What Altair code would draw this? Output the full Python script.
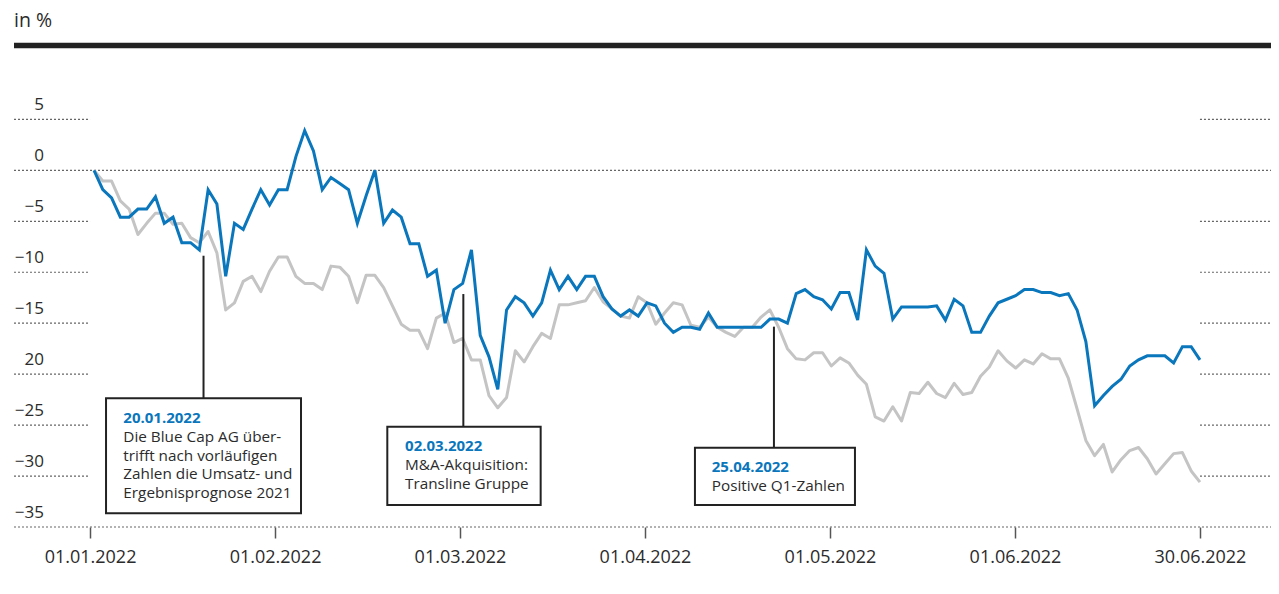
import altair as alt
import pandas as pd

# ---------------- data ----------------
blue = [0.0, -1.9, -2.7, -4.6, -4.6, -3.8, -3.8, -2.6, -5.2, -4.6,
        -7.1, -7.1, -7.8, -1.9, -3.3, -10.4, -5.2, -5.8, -3.8, -1.9,
        -3.4, -1.9, -1.9, 1.35, 3.9, 1.9, -1.9, -0.7, -1.3, -1.9,
        -5.2, -2.5, 0.0, -5.2, -3.9, -4.6, -7.2, -7.2, -10.4, -9.8,
        -15.0, -11.7, -11.1, -7.8, -16.2, -18.3, -21.5, -13.7, -12.4, -13.0,
        -14.3, -13.0, -9.8, -11.7, -10.4, -11.7, -10.4, -10.4, -12.4, -13.6,
        -14.3, -13.7, -14.3, -13.0, -13.3, -15.0, -15.9, -15.4, -15.4, -15.6,
        -14.0, -15.4, -15.4, -15.4, -15.4, -15.4, -15.4, -14.6, -14.6, -15.0,
        -12.1, -11.7, -12.4, -12.7, -13.6, -12.0, -12.0, -14.7, -7.8, -9.4,
        -10.1, -14.6, -13.4, -13.4, -13.4, -13.4, -13.3, -14.7, -12.65, -13.3,
        -15.9, -15.9, -14.3, -13.0, -12.65, -12.3, -11.7, -11.7, -12.0, -12.0,
        -12.3, -12.1, -13.7, -16.8, -23.1, -22.1, -21.2, -20.5, -19.2, -18.6,
        -18.2, -18.2, -18.2, -18.9, -17.3, -17.3, -18.6]

gray = [0.0, -1.05, -1.05, -3.0, -3.8, -6.3, -5.2, -4.2, -4.2, -5.3,
        -5.2, -6.6, -7.1, -6.0, -8.1, -13.7, -13.0, -10.9, -10.4, -11.9,
        -9.9, -8.5, -8.5, -10.4, -11.1, -11.1, -11.7, -9.4, -9.5, -10.4,
        -13.0, -10.3, -10.3, -11.5, -13.3, -15.1, -15.7, -15.7, -17.5, -14.5,
        -14.0, -16.9, -16.5, -18.6, -18.6, -22.1, -23.3, -22.3, -17.7, -18.8,
        -17.3, -16.0, -16.5, -13.2, -13.2, -13.0, -12.8, -11.5, -12.9, -13.6,
        -14.3, -14.5, -12.4, -13.0, -15.1, -14.0, -13.0, -13.2, -15.2, -15.4,
        -14.4, -15.4, -15.9, -16.3, -15.4, -15.4, -14.4, -13.7, -15.4, -17.5,
        -18.5, -18.6, -17.9, -17.9, -19.2, -18.4, -18.9, -20.1, -21.0, -24.2,
        -24.6, -23.2, -24.6, -21.8, -21.9, -20.8, -21.9, -22.3, -20.9, -22.0,
        -21.8, -20.2, -19.3, -17.7, -18.7, -19.4, -18.6, -19.0, -18.0, -18.5,
        -18.5, -20.4, -23.4, -26.5, -28.0, -26.9, -29.6, -28.4, -27.5, -27.2,
        -28.3, -29.8, -28.8, -27.8, -27.7, -29.5, -30.6]

x_tick_labels = ["01.01.2022", "01.02.2022", "01.03.2022", "01.04.2022",
                 "01.05.2022", "01.06.2022", "30.06.2022"]
y_tick_values = [5, 0, -5, -10, -15, -20, -25, -30, -35]
y_tick_labels = ["5", "0", "\u22125", "\u221210", "\u221215", "20",
                 "\u221225", "\u221230", "\u221235"]

ann_dates = ["20.01.2022", "02.03.2022", "25.04.2022"]
ann_texts = [["Die Blue Cap AG \u00fcber-", "trifft nach vorl\u00e4ufigen",
              "Zahlen die Umsatz- und", "Ergebnisprognose 2021"],
             ["M&A-Akquisition:", "Transline Gruppe"],
             ["Positive Q1-Zahlen"]]

# ---------------- layout (scale units) ----------------
XMIN, XMAX = -0.411, 6.384          # month units, tick k at k
YMIN, YMAX = -35, 7
W, H = 1257, 428
FIRST_POS = 0.0216                  # first trading day sits just right of 01.01 tick
n = len(blue)
step = (6 - FIRST_POS) / (n - 1)
pos = [FIRST_POS + i * step for i in range(n)]

BLUE = "#0a76bc"
GRAY = "#c4c4c4"
DARK = "#222222"
TXT = "#2b2b2b"
FONT = "Open Sans"

xs = alt.Scale(domain=[XMIN, XMAX], nice=False, zero=False)
ys = alt.Scale(domain=[YMIN, YMAX], nice=False, zero=False)
XAX = alt.Axis(values=list(range(7)),
               labelExpr="[" + ",".join("'%s'" % s for s in x_tick_labels) + "][datum.value]",
               domain=False, grid=False, tickSize=11, tickColor="#555555", tickWidth=1.5,
               labelFont=FONT, labelFontSize=18, labelColor=TXT, labelPadding=10,
               labelOverlap=False, labelFlush=False, title=None)


def X(f):
    return alt.X(f, type="quantitative", scale=xs, axis=XAX)


def Y(f):
    return alt.Y(f, type="quantitative", scale=ys, axis=None)


# gridlines
grid_rows = []
for v in y_tick_values:
    if v in (0, -35):
        grid_rows.append({"y": v, "x": XMIN, "x2": XMAX})
    else:
        grid_rows.append({"y": v, "x": XMIN, "x2": 0})
        grid_rows.append({"y": v, "x": 6, "x2": XMAX})
grid = alt.Chart(pd.DataFrame(grid_rows)).mark_rule(
    color="#666666", strokeWidth=1.2, strokeDash=[2, 2]
).encode(x=X("x"), x2="x2", y=Y("y"))

ylab = alt.Chart(pd.DataFrame({"y": y_tick_values, "t": y_tick_labels, "x": -0.2486})).mark_text(
    align="right", baseline="alphabetic", dy=-9, font=FONT, fontSize=17, color=TXT
).encode(x=X("x"), y=Y("y"), text="t:N")

topbar = alt.Chart(pd.DataFrame({"y": [12.25], "x": [XMIN], "x2": [XMAX]})).mark_rule(
    color=DARK, strokeWidth=5.5
).encode(x=X("x"), x2="x2", y=Y("y"))

unit = alt.Chart(pd.DataFrame({"y": [14.7], "x": [XMIN], "t": ["in %"]})).mark_text(
    align="left", baseline="middle", font=FONT, fontSize=19.5, color=TXT
).encode(x=X("x"), y=Y("y"), text="t:N")

lines_df = pd.DataFrame({"pos": pos * 2, "v": gray + blue,
                         "s": ["gray"] * n + ["blue"] * n,
                         "o": list(range(n)) * 2})
line_gray = alt.Chart(lines_df[lines_df.s == "gray"]).mark_line(
    color=GRAY, strokeWidth=3, strokeJoin="round"
).encode(x=X("pos"), y=Y("v"), order="o:Q")
line_blue = alt.Chart(lines_df[lines_df.s == "blue"]).mark_line(
    color=BLUE, strokeWidth=3, strokeJoin="miter"
).encode(x=X("pos"), y=Y("v"), order="o:Q")

# annotations (positions in scale units)
conn = pd.DataFrame({"x": [0.6135, 2.018, 3.697],
                     "y": [-8.38, -12.14, -15.34],
                     "y2": [-22.37, -25.16, -27.22]})
connectors = alt.Chart(conn).mark_rule(color=DARK, strokeWidth=2).encode(
    x=X("x"), y=Y("y"), y2="y2")

boxes_df = pd.DataFrame({"x": [0.0865, 1.607, 3.270], "x2": [1.1405, 2.436, 4.135],
                         "y": [-22.37, -25.16, -27.22], "y2": [-33.66, -32.84, -32.84]})
boxes = alt.Chart(boxes_df).mark_rect(fill="white", stroke=DARK, strokeWidth=2).encode(
    x=X("x"), x2="x2", y=Y("y"), y2="y2")

text_x = [0.18, 1.703, 3.361]
date_y = [-24.33, -27.05, -29.14]
body_y = [[-26.14, -28.0, -29.83, -31.63], [-28.92, -30.78], [-30.98]]

dates = alt.Chart(pd.DataFrame({"x": text_x, "y": date_y, "t": ann_dates})).mark_text(
    align="left", baseline="middle", font=FONT, fontSize=15, fontWeight="bold", color=BLUE
).encode(x=X("x"), y=Y("y"), text="t:N")

body_rows = []
for k in range(3):
    for t, yy in zip(ann_texts[k], body_y[k]):
        body_rows.append({"x": text_x[k], "y": yy, "t": t})
body = alt.Chart(pd.DataFrame(body_rows)).mark_text(
    align="left", baseline="middle", font=FONT, fontSize=15.3, color=TXT
).encode(x=X("x"), y=Y("y"), text="t:N")

chart = alt.layer(
    grid, ylab, topbar, unit, line_gray, line_blue, connectors, boxes, dates, body
).properties(
    width=W, height=H,
    autosize=alt.AutoSizeParams(type="none"),
    padding={"left": 6, "top": 91, "right": 0, "bottom": 50},
    background="white"
).configure_view(stroke=None)

chart.save("out.html", embed_options={"renderer": "svg", "actions": False})
